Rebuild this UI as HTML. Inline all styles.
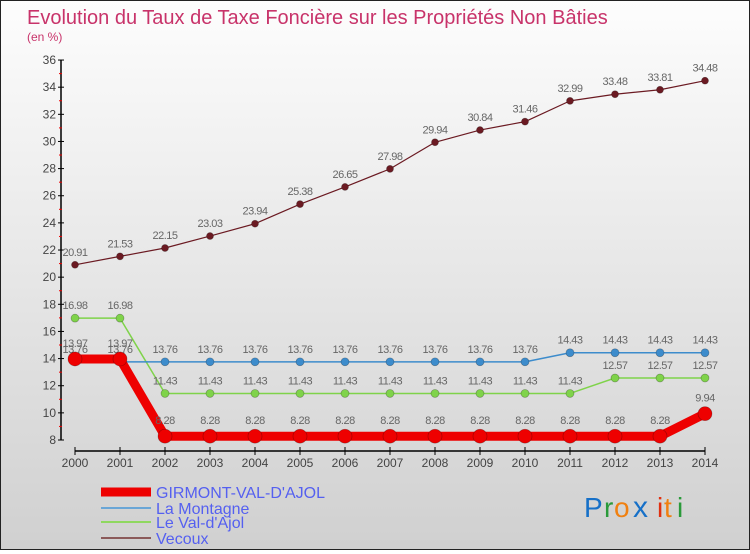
<!DOCTYPE html>
<html><head><meta charset="utf-8"><style>
html,body{margin:0;padding:0;}
body{width:750px;height:550px;overflow:hidden;font-family:"Liberation Sans",sans-serif;}
#wrap{position:relative;width:748px;height:548px;border:1px solid #222;background:linear-gradient(#fdfdfd,#d0d0d0);}
</style></head><body>
<div id="wrap">
<svg id="chart" width="748" height="548" xmlns="http://www.w3.org/2000/svg"></svg>
</div>
<script>
const years=[2000,2001,2002,2003,2004,2005,2006,2007,2008,2009,2010,2011,2012,2013,2014];
const girmont=[13.97,13.97,8.28,8.28,8.28,8.28,8.28,8.28,8.28,8.28,8.28,8.28,8.28,8.28,9.94];
const montagne=[13.76,13.76,13.76,13.76,13.76,13.76,13.76,13.76,13.76,13.76,13.76,14.43,14.43,14.43,14.43];
const valdajol=[16.98,16.98,11.43,11.43,11.43,11.43,11.43,11.43,11.43,11.43,11.43,11.43,12.57,12.57,12.57];
const vecoux=[20.91,21.53,22.15,23.03,23.94,25.38,26.65,27.98,29.94,30.84,31.46,32.99,33.48,33.81,34.48];
const yTicks=[8,10,12,14,16,18,20,22,24,26,28,30,32,34,36];
const legendNames=["GIRMONT-VAL-D'AJOL","La Montagne","Le Val-d'Ajol","Vecoux"];

const svg=document.getElementById('chart');
const NS="http://www.w3.org/2000/svg";
const x=i=>74+i*45;
const y=v=>439-(v-8)*13.57;
function mk(t,a,parent){const e=document.createElementNS(NS,t);for(const k in a)e.setAttribute(k,a[k]);(parent||svg).appendChild(e);return e;}
function txt(s,a,parent){const e=mk('text',a,parent);e.textContent=s;return e;}

let t=txt('Evolution du Taux de Taxe Foncière sur les Propriétés Non Bâties',{x:26,y:23,'font-size':20,fill:'#c8336a'});


t=txt('(en %)',{x:26,y:40,'font-size':12,fill:'#c8336a'});



const axes=mk('g',{});


mk('line',{x1:60,y1:y(36),x2:60,y2:y(8),stroke:'#000','stroke-width':1.5},axes);
mk('line',{x1:x(0),y1:450,x2:x(14),y2:450,stroke:'#000','stroke-width':1.5},axes);
yTicks.forEach(v=>{
  mk('line',{x1:57,y1:y(v),x2:63,y2:y(v),stroke:'#000'},axes);
  if(v<36) mk('line',{x1:58,y1:y(v+1),x2:61,y2:y(v+1),stroke:'#e00'},axes);
  const l=txt(String(v),{x:55,y:y(v)+4,'font-size':12,fill:'#444','text-anchor':'end'},axes);
  
  
});
years.forEach((yr,i)=>{
  mk('line',{x1:x(i),y1:446,x2:x(i),y2:454,stroke:'#000'},axes);
  const l=txt(String(yr),{x:x(i),y:466,'font-size':12,fill:'#444','text-anchor':'middle'},axes);
  
  
});

function series(vals,color,w,r,name,labelDy){
  const g=mk('g',{});
  
  
  mk('polyline',{points:vals.map((v,i)=>x(i)+','+y(v)).join(' '),fill:'none',stroke:color,'stroke-width':w,'stroke-linejoin':'round'},g);
  vals.forEach((v,i)=>{
    const c=mk('circle',{cx:x(i),cy:y(v),r:r,fill:color,stroke:'rgba(0,0,0,0.3)','stroke-width':0.7},g);
    
    
    const l=txt(String(v),{x:x(i),y:y(v)-labelDy,'font-size':11,fill:'#666','text-anchor':'middle','letter-spacing':'-0.5'},g);
    
    
  });
}
series(vecoux,'#6b1a22',1.2,3.5,'series-vecoux',9);
series(valdajol,'#7fd34a',1.5,4,'series-le-val-dajol',9);
series(montagne,'#3d8ccc',1.5,4,'series-la-montagne',9);
series(girmont,'#ee0000',9,7,'series-girmont',12);

const lg=mk('g',{});


const lc=['#ee0000','#6aa6d6','#8fd860','#8b5a5a'],lw=[9,2,2,2],ly=[491,507,521,537];
legendNames.forEach((n,i)=>{
  const e=mk('g',{},lg);
  
  
  mk('line',{x1:100,y1:ly[i],x2:150,y2:ly[i],stroke:lc[i],'stroke-width':lw[i]},e);
  txt(n,{x:155,y:ly[i]+6,'font-size':16,fill:'#5560f0'},e);
});

const logo=mk('g',{});


const letters=['P','r','o','x','i','t','i'],lcol=['#1670c8','#2a9a3a','#f08010','#1670c8','#e03010','#f08010','#2a9a3a'],lx=[583,603,613,632,656,663,676];
letters.forEach((c,i)=>txt(c,{x:lx[i],y:516,'font-size':i==3?30:28,fill:lcol[i]},logo));
</script>
</body></html>
